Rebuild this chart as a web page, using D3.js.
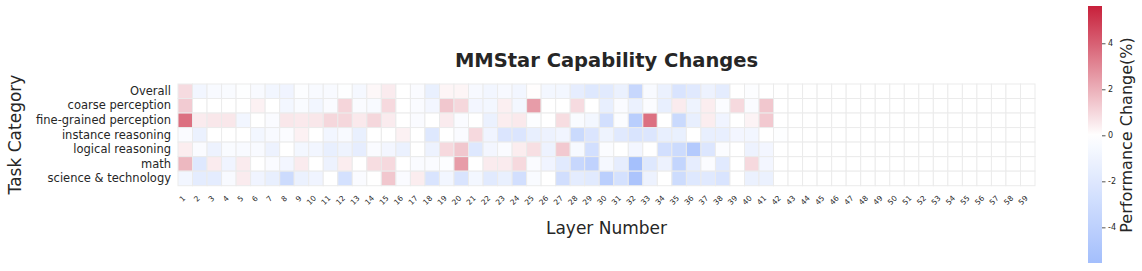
<!DOCTYPE html>
<html>
<head>
<meta charset="utf-8">
<script src="https://cdn.jsdelivr.net/npm/d3@7"></script>
<style>
  html, body { margin: 0; padding: 0; background: #ffffff; }
  svg { display: block; font-family: "DejaVu Sans", sans-serif; }
</style>
</head>
<body>
<svg id="chart" width="1142" height="271"></svg>
<script>
// ---------------- data ----------------
const categories = ["Overall", "coarse perception", "fine-grained perception", "instance reasoning",
  "logical reasoning", "math", "science & technology"];

const layers = ["1","2","3","4","5","6","7","8","9","10","11","12","13","14","15","16","17","18","19","20",
  "21","22","23","24","25","26","27","28","29","30","31","32","33","34","35","36","37","38","39","40",
  "41","42","43","44","45","46","47","48","49","50","51","52","53","54","55","56","57","58","59"];

// performance change (%) per layer, layers 1..42 (later layers have no data)
const overall = [0.9,-0.8,-0.45,-0.35,-0.1,-0.4,-0.8,-0.9,-0.2,-0.4,-0.45,-0.1,-0.6,0.2,0.5,0,-0.3,-1.3,0.25,0.25,
  -0.5,-0.8,-0.5,-0.8,0.05,-0.7,-0.7,-1.5,-2.0,-1.8,-1.2,-3.4,-0.45,-1.2,-2.3,-1.9,-1.1,-1.6,0,-0.2,0,0];
const coarse = [1.3,0,0,0,0,0.35,0,-0.7,-0.35,-0.8,-0.3,1.05,-0.3,-0.45,0.95,0,-0.3,-0.75,1.4,1.0,
  -0.75,-0.7,0.4,-0.7,2.5,0,0,0.9,0,-1.4,-0.3,-1.2,-0.25,-1.4,0.5,-1.0,0.45,-0.25,0.95,-0.3,1.4,0];
const fineGrained = [3.6,0.5,0.6,0.6,-0.8,0,-0.3,0.6,0.55,0.6,1.0,1.0,0.55,1.0,0.5,0,-0.3,0,0.5,-0.3,
  0,-1.2,0.45,0.55,-0.2,0,0.85,-0.35,-0.7,-2.7,-0.25,-4.2,3.6,0,-3.2,-1.4,0.45,-0.9,0,0.3,1.35,0];
const instance = [-0.3,-1.2,0,0,0,-0.7,-0.4,-0.25,0.35,0,-0.8,-0.4,-1.3,0,0,0.35,0,-2.0,0,-0.3,
  0.95,-0.9,-2.2,-2.2,-1.4,-1.1,-0.85,-3.2,-2.2,-1.0,-1.9,-2.3,-2.1,-1.4,-1.3,0,-1.4,-1.4,-0.75,-0.8,0,-0.1];
const logical = [0.45,-0.3,-1.1,-0.35,-0.4,-0.45,-1.1,0,-0.7,-0.8,-1.4,-1.0,-1.5,-0.3,-0.75,-1.2,0,-1.1,0.95,1.4,
  -2.0,-0.75,-0.3,0.45,0.8,-1.1,1.35,-0.55,-2.7,-0.25,0,-0.75,0,-2.7,-3.1,-4.5,-2.1,-0.25,0,-1.1,-0.75,0];
const math = [1.8,-2.0,0.5,-0.9,0.5,0,-0.3,-0.75,0.5,0,-1.1,0.45,0,0.85,0.95,0,-0.3,-0.3,-0.2,2.5,
  0,0.5,0.5,0.95,-0.3,-0.9,-1.8,-3.4,-3.8,-0.6,-1.5,-5.4,-2.0,-1.1,-3.6,-1.5,-0.25,-1.8,0,0.95,-0.75,0];
const science = [-0.8,-1.6,-1.6,-0.4,0.5,-0.9,-1.4,-3.1,-1.2,-0.9,0,-2.6,-0.3,0,1.4,-0.3,0.45,-2.3,-0.8,-2.3,
  -0.7,-1.8,-1.3,-2.7,-0.35,0,-2.8,-1.6,-1.8,-4.1,-2.6,-5.0,-1.1,0,-3.0,-2.0,-1.9,-2.3,0,-1.2,-1.2,0];

const seriesByCategory = [overall, coarse, fineGrained, instance, logical, math, science];
const colorbarTicks = [-4, -2, 0, 2, 4];

// ---------------- drawing ----------------
const svg = d3.select("#chart");
const textColor = "#262626";

const x = d3.scaleBand().domain(layers).range([178, 1035]).padding(0);
const y = d3.scaleBand().domain(categories).range([84, 185.7]).padding(0);

const vmin = -5.55, vmax = 5.62;
const color = d3.scaleLinear()
  .domain([vmin, 0, vmax])
  .range(["#a3befc", "#ffffff", "#c8203b"])
  .clamp(true);

// cells
const cells = [];
categories.forEach((c, i) => {
  layers.forEach((l, j) => {
    const v = seriesByCategory[i][j];
    cells.push({ cat: c, layer: l, value: (v === undefined ? null : v) });
  });
});

svg.append("g").selectAll("rect")
  .data(cells)
  .join("rect")
  .attr("x", d => x(d.layer))
  .attr("y", d => y(d.cat))
  .attr("width", x.bandwidth())
  .attr("height", y.bandwidth())
  .attr("fill", d => d.value === null ? "#ffffff" : color(d.value))
  .attr("stroke", "#ebebeb")
  .attr("stroke-width", 1);

// y axis (categories)
const yAxis = svg.append("g")
  .attr("transform", "translate(178,0)")
  .call(d3.axisLeft(y).tickSize(0).tickPadding(7));
yAxis.select(".domain").remove();
yAxis.selectAll("text")
  .attr("font-size", "11.5px")
  .attr("font-family", "DejaVu Sans")
  .attr("fill", textColor);

// x axis (layers) - labels rotated 45deg, right-aligned to tick
const xAxis = svg.append("g")
  .attr("transform", "translate(0,185.7)")
  .call(d3.axisBottom(x).tickSize(0));
xAxis.select(".domain").remove();
const labelTop = 9.3, glyphH = 5.6;
xAxis.selectAll("text")
  .attr("font-size", "7.5px")
  .attr("font-family", "DejaVu Sans")
  .attr("fill", textColor)
  .attr("y", 0)
  .attr("dy", null)
  .attr("dominant-baseline", "central")
  .attr("text-anchor", "middle")
  .each(function () {
    const w = this.getComputedTextLength();
    const side = 0.7071 * (w + glyphH);
    d3.select(this).attr("transform",
      `translate(${-side / 2 + 0.8},${labelTop + side / 2}) rotate(-45)`);
  });

// title
svg.append("text")
  .attr("x", 606.5)
  .attr("y", 66.5)
  .attr("text-anchor", "middle")
  .attr("font-size", "19.5px")
  .attr("font-weight", "bold")
  .attr("fill", textColor)
  .text("MMStar Capability Changes");

// axis labels
svg.append("text")
  .attr("transform", "translate(15,134.5) rotate(-90)")
  .attr("text-anchor", "middle")
  .attr("dominant-baseline", "central")
  .attr("font-size", "17px")
  .attr("fill", textColor)
  .text("Task Category");

svg.append("text")
  .attr("x", 606.5)
  .attr("y", 234)
  .attr("text-anchor", "middle")
  .attr("font-size", "17px")
  .attr("fill", textColor)
  .text("Layer Number");

// colorbar
const cbX = 1088, cbW = 14, cbTop = 6, cbBottom = 263;
const cbScale = d3.scaleLinear().domain([vmin, vmax]).range([cbBottom, cbTop]);
const defs = svg.append("defs");
const grad = defs.append("linearGradient")
  .attr("id", "cbgrad")
  .attr("x1", 0).attr("y1", 1).attr("x2", 0).attr("y2", 0);
d3.range(0, 1.0001, 0.05).forEach(t => {
  const v = vmin + t * (vmax - vmin);
  grad.append("stop").attr("offset", t).attr("stop-color", color(v));
});
svg.append("rect")
  .attr("x", cbX).attr("y", cbTop)
  .attr("width", cbW).attr("height", cbBottom - cbTop)
  .attr("fill", "url(#cbgrad)");

const cbAxis = svg.append("g")
  .attr("transform", `translate(${cbX + cbW},0)`)
  .call(d3.axisRight(cbScale).tickValues(colorbarTicks).tickSize(3.5).tickPadding(2.5)
    .tickFormat(d => d < 0 ? "-" + Math.abs(d) : String(d)));
cbAxis.select(".domain").remove();
cbAxis.selectAll("line").attr("stroke", textColor).attr("stroke-width", 0.8);
cbAxis.selectAll("text")
  .attr("font-size", "8px")
  .attr("font-family", "DejaVu Sans")
  .attr("fill", textColor);

svg.append("text")
  .attr("transform", "translate(1126,135) rotate(-90)")
  .attr("text-anchor", "middle")
  .attr("dominant-baseline", "central")
  .attr("font-size", "16px")
  .attr("fill", textColor)
  .text("Performance Change(%)");
</script>
</body>
</html>
